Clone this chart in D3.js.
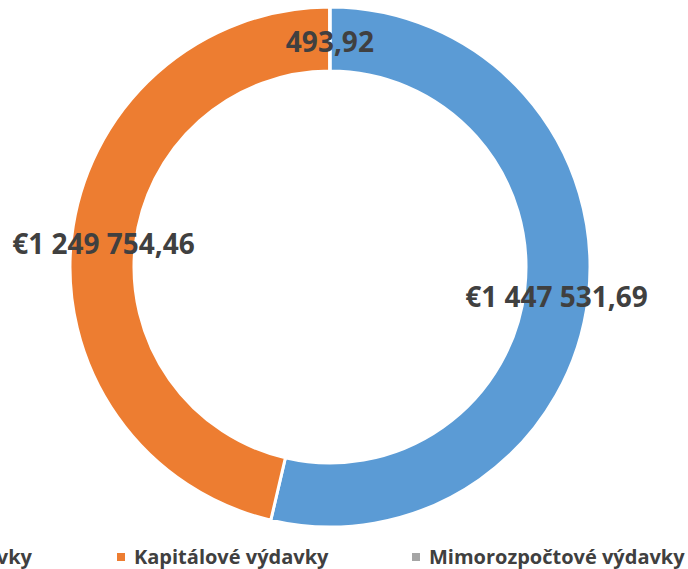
<!DOCTYPE html>
<html>
<head>
<meta charset="utf-8">
<script src="https://cdn.jsdelivr.net/npm/d3@7"></script>
<style>
  body { margin: 0; background: #fff; }
  svg { display: block; font-family: "Open Sans", sans-serif; }
</style>
</head>
<body>
<svg width="688" height="569"></svg>
<script>
var categories = ["Bežné výdavky", "Kapitálové výdavky", "Mimorozpočtové výdavky"];
var values = [1447531.69, 1249754.46, 493.92];
var labels = ["€1 447 531,69", "€1 249 754,46", "493,92"];
var colors = ["#5B9BD5", "#ED7D31", "#A5A5A5"];

var data = categories.map((c, i) => ({ name: c, value: values[i], label: labels[i], color: colors[i] }));

var svg = d3.select("svg");
var cx = 330, cy = 267, rOut = 260, rIn = 196;

var pie = d3.pie().sort(null).value(d => d.value);
var arc = d3.arc().innerRadius(rIn).outerRadius(rOut);
var mid = d3.arc().innerRadius((rIn + rOut) / 2).outerRadius((rIn + rOut) / 2);

var g = svg.append("g").attr("transform", "translate(" + cx + "," + cy + ")");

g.selectAll("path")
    .data(pie(data))
    .enter()
        .append("path")
        .attr("d", arc)
        .style("fill", d => d.data.color)
        .style("stroke", "#fff")
        .style("stroke-width", 3);

g.selectAll("text")
    .data(pie(data))
    .enter()
        .append("text")
        .attr("x", d => mid.centroid(d)[0])
        .attr("y", d => mid.centroid(d)[1])
        .attr("dy", "0.48em")
        .attr("text-anchor", "middle")
        .style("font-size", "28px")
        .style("font-weight", "bold")
        .style("fill", "#404040")
        .text(d => d.data.label);

// legend - first entry is pushed off the left edge like in the original
var legendX = [0, 117, 412];
var legend = svg.append("g").attr("class", "legend");
var items = legend.selectAll("g")
    .data(data)
    .enter()
        .append("g");

items.append("rect")
    .attr("x", 0)
    .attr("y", -4)
    .attr("width", 8)
    .attr("height", 8)
    .style("fill", d => d.color);

items.append("text")
    .attr("x", 17)
    .attr("y", 0)
    .attr("dy", "0.35em")
    .style("font-size", "20px")
    .style("font-weight", "bold")
    .style("fill", "#404040")
    .text(d => d.name);

// first item: text ends at x=32
var w0 = items.filter((d, i) => i === 0).select("text").node().getComputedTextLength();
legendX[0] = 32 - 17 - w0;
items.attr("transform", (d, i) => "translate(" + legendX[i] + ",557)");
</script>
</body>
</html>
